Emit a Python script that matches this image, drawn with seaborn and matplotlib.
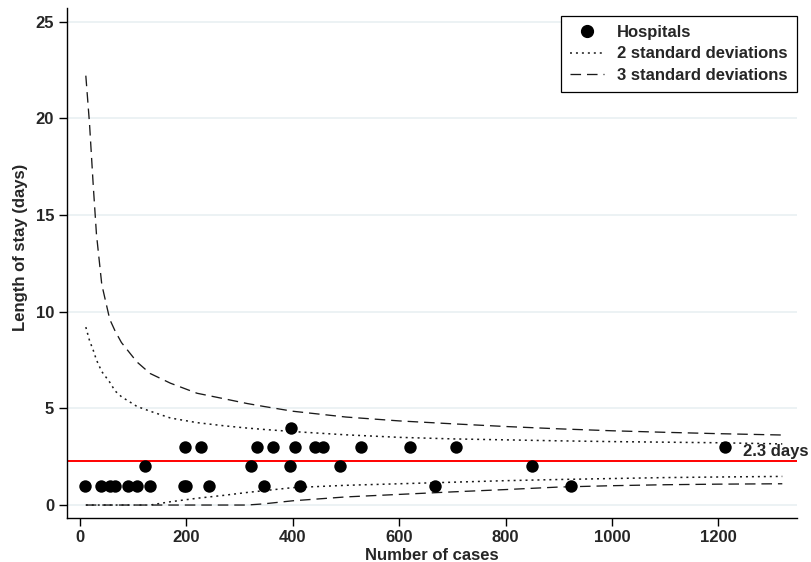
import matplotlib
matplotlib.use("Agg")
import matplotlib.pyplot as plt
import seaborn as sns
import pandas as pd
from matplotlib.lines import Line2D

# Hospital volumes and mean length of stay
cases = [9, 39, 56, 66, 91, 108, 132, 196, 200, 243, 345, 413, 667, 923,
         122, 321, 394, 488, 850,
         197, 227, 332, 362, 404, 442, 457, 528, 621, 707, 1212,
         397]
los = [1, 1, 1, 1, 1, 1, 1, 1, 1, 1, 1, 1, 1, 1,
       2, 2, 2, 2, 2,
       3, 3, 3, 3, 3, 3, 3, 3, 3, 3, 3,
       4]

overall_mean = 2.3

# Control limits evaluated along the case-volume axis
limit_n = [11, 18, 25, 31, 41, 56, 66, 78, 107, 132, 170, 220, 270, 314,
           345, 400, 500, 600, 700, 800, 900, 1000, 1100, 1200, 1320]
upper_3sd = [22.2, 19.7, 16.5, 14.0, 11.4, 9.6, 9.0, 8.4, 7.4, 6.8, 6.3, 5.78,
             5.5, 5.25, 5.1, 4.85, 4.55, 4.35, 4.2, 4.06, 3.94, 3.84, 3.76,
             3.69, 3.62]
upper_2sd = [9.2, 8.5, 8.0, 7.5, 6.9, 6.35, 5.9, 5.6, 5.1, 4.85, 4.5, 4.26,
             4.1, 3.98, 3.91, 3.8, 3.63, 3.5, 3.42, 3.37, 3.32, 3.28, 3.25,
             3.22, 3.16]
lower_2sd = [0, 0, 0, 0, 0, 0, 0, 0, 0, 0, 0.17, 0.35, 0.5, 0.65, 0.74, 0.9,
             1.02, 1.1, 1.18, 1.26, 1.32, 1.37, 1.42, 1.45, 1.48]
lower_3sd = [0, 0, 0, 0, 0, 0, 0, 0, 0, 0, 0, 0, 0, 0, 0.06, 0.22, 0.42,
             0.55, 0.68, 0.8, 0.93, 1.0, 1.05, 1.08, 1.1]

x_ticks = [0, 200, 400, 600, 800, 1000, 1200]
y_ticks = [0, 5, 10, 15, 20, 25]

sns.set_theme(style="white")
plt.rcParams["font.family"] = ["Liberation Sans", "DejaVu Sans"]
plt.rcParams["font.weight"] = "bold"

fig = plt.figure(figsize=(8.12, 5.62), dpi=100)
ax = fig.add_axes([0.0821, 0.0783, 0.899, 0.9075])

grid_color = "#EAF1F3"
for yv in y_ticks:
    ax.axhline(yv, color=grid_color, lw=1.3, zorder=0)

limits = pd.DataFrame({"n": limit_n, "u3": upper_3sd, "u2": upper_2sd,
                       "l2": lower_2sd, "l3": lower_3sd})

dot_style = dict(color="#1a1a1a", lw=1.1, dashes=(1.3, 2.6))
dash_style = dict(color="#1a1a1a", lw=0.95, dashes=(8.0, 4.5))
sns.lineplot(data=limits, x="n", y="u2", ax=ax, sort=False, **dot_style)
sns.lineplot(data=limits, x="n", y="l2", ax=ax, sort=False, **dot_style)
sns.lineplot(data=limits, x="n", y="u3", ax=ax, sort=False, **dash_style)
sns.lineplot(data=limits, x="n", y="l3", ax=ax, sort=False, **dash_style)

ax.axhline(overall_mean, color="#FF0000", lw=1.4, zorder=2)

hosp = pd.DataFrame({"cases": cases, "los": los})
sns.scatterplot(data=hosp, x="cases", y="los", ax=ax, s=80, color="black",
                edgecolor="black", linewidth=0, zorder=3)

ax.text(1246, overall_mean + 0.1, "2.3 days", fontsize=12, fontweight="bold",
        ha="left", va="bottom", clip_on=False, zorder=4)

ax.set_xlim(-25, 1347)
ax.set_ylim(-0.67, 25.7)
ax.set_xticks(x_ticks)
ax.set_yticks(y_ticks)
ax.tick_params(axis="both", which="major", direction="out", length=6,
               width=1.0, color="black", labelsize=12, pad=3,
               bottom=True, left=True)
for lab in ax.get_xticklabels() + ax.get_yticklabels():
    lab.set_fontweight("bold")

for side in ["top", "right"]:
    ax.spines[side].set_visible(False)
for side in ["left", "bottom"]:
    ax.spines[side].set_color("black")
    ax.spines[side].set_linewidth(1.0)

ax.set_xlabel("Number of cases", fontsize=12, fontweight="bold", labelpad=0)
ax.set_ylabel("Length of stay (days)", fontsize=12, fontweight="bold")
ax.yaxis.set_label_coords(-0.053, 0.53)
ax.xaxis.set_label_coords(0.5, -0.058)

handles = [
    Line2D([], [], marker="o", linestyle="none", color="black", markersize=8.5),
    Line2D([], [], **dot_style),
    Line2D([], [], **dash_style),
]
leg = ax.legend(handles, ["Hospitals", "2 standard deviations",
                          "3 standard deviations"],
                loc="upper right", bbox_to_anchor=(1.0, 0.985),
                frameon=True, fancybox=False, framealpha=1,
                edgecolor="black", prop={"size": 12, "weight": "bold"},
                handlelength=2.0, handletextpad=0.8, labelspacing=0.4,
                borderpad=0.55, borderaxespad=0.0)
leg.get_frame().set_linewidth(0.9)

fig.savefig("out.png", dpi=100)
